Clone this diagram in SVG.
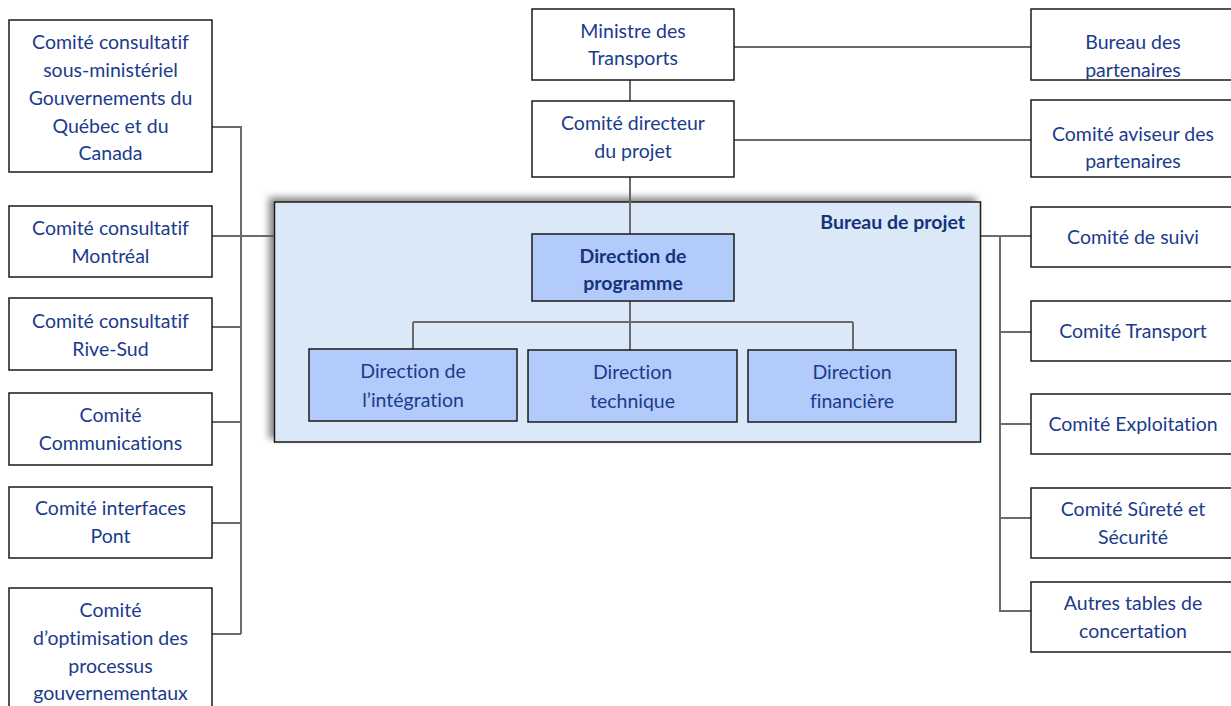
<svg xmlns="http://www.w3.org/2000/svg" width="1231" height="706" viewBox="0 0 1231 706">
<defs>
<style>
.box{fill:#fff;stroke:#1a1a1a;stroke-width:1.5}
.dir{fill:#b3cbfa;stroke:#1a1a1a;stroke-width:1.5}
.t{font-family:Lato,"Open Sans",sans-serif;font-size:19.5px;fill:#1b3b8c;text-anchor:middle;font-variant-ligatures:none;font-feature-settings:"liga" 0,"dlig" 0}
.b{font-weight:bold;fill:#16327a}
.c{fill:none;stroke:#6b6b6b;stroke-width:2}
</style>
<filter id="sh" x="-5%" y="-10%" width="110%" height="120%">
<feDropShadow dx="-5" dy="-4" stdDeviation="3.5" flood-color="#555" flood-opacity="0.7"/>
</filter>
</defs>
<rect width="1231" height="706" fill="#fff"/>
<g id="connectors">
<path class="c" d="M212 127H241V634M212 634H241M212 236H275M212 327H241M212 422H241M212 523H241"/>
<path class="c" d="M981 236H1031M1000 236V611H1031M1000 332H1031M1000 424H1031M1000 518H1031"/>
<path class="c" d="M630 80V101M630 177V234M734 47H1031M734 140H1031"/>
</g>
<g id="bureau-projet">
<rect x="274.5" y="202" width="706" height="240" fill="#dae8f7" stroke="#1a1a1a" stroke-width="1.5" filter="url(#sh)"/>
<text class="t b" x="965" y="229" style="text-anchor:end">Bureau de projet</text>
</g>
<g id="connectors-internal">
<path class="c" d="M630 201V234M630 301V350M413 322H853M413 322V349M853 322V349"/>
</g>
<g id="n-cc-sous"><rect class="box" x="9" y="20" width="203" height="152"/>
<text class="t"><tspan x="110.5" y="49">Comité consultatif</tspan><tspan x="110.5" y="77">sous-ministériel</tspan><tspan x="110.5" y="105">Gouvernements du</tspan><tspan x="110.5" y="133">Québec et du</tspan><tspan x="110.5" y="160">Canada</tspan></text></g>
<g id="n-cc-mtl"><rect class="box" x="9" y="206" width="203" height="71"/>
<text class="t"><tspan x="110.5" y="235">Comité consultatif</tspan><tspan x="110.5" y="263">Montréal</tspan></text></g>
<g id="n-cc-rs"><rect class="box" x="9" y="298" width="203" height="72"/>
<text class="t"><tspan x="110.5" y="328">Comité consultatif</tspan><tspan x="110.5" y="356">Rive-Sud</tspan></text></g>
<g id="n-ccom"><rect class="box" x="9" y="393" width="203" height="72"/>
<text class="t"><tspan x="110.5" y="422">Comité</tspan><tspan x="110.5" y="450">Communications</tspan></text></g>
<g id="n-cip"><rect class="box" x="9" y="487" width="203" height="71"/>
<text class="t"><tspan x="110.5" y="515">Comité interfaces</tspan><tspan x="110.5" y="543">Pont</tspan></text></g>
<g id="n-copt"><rect class="box" x="9" y="588" width="203" height="128"/>
<text class="t"><tspan x="110.5" y="617">Comité</tspan><tspan x="110.5" y="645">d’optimisation des</tspan><tspan x="110.5" y="673">processus</tspan><tspan x="110.5" y="700">gouvernementaux</tspan></text></g>
<g id="n-ministre"><rect class="box" x="532" y="9" width="202" height="71"/>
<text class="t"><tspan x="633" y="38">Ministre des</tspan><tspan x="633" y="65">Transports</tspan></text></g>
<g id="n-cdir"><rect class="box" x="532" y="101" width="202" height="76"/>
<text class="t"><tspan x="633" y="130">Comité directeur</tspan><tspan x="633" y="158">du projet</tspan></text></g>
<g id="n-prog"><rect class="dir" x="532" y="234" width="202" height="67"/>
<text class="t b"><tspan x="633" y="263">Direction de</tspan><tspan x="633" y="290">programme</tspan></text></g>
<g id="n-integ"><rect class="dir" x="309" y="349" width="208" height="72"/>
<text class="t"><tspan x="413" y="378">Direction de</tspan><tspan x="413" y="407">l’intégration</tspan></text></g>
<g id="n-tech"><rect class="dir" x="528" y="350" width="209" height="72"/>
<text class="t"><tspan x="632.5" y="379">Direction</tspan><tspan x="632.5" y="408">technique</tspan></text></g>
<g id="n-fin"><rect class="dir" x="748" y="350" width="208" height="72"/>
<text class="t"><tspan x="852" y="379">Direction</tspan><tspan x="852" y="408">financière</tspan></text></g>
<g id="n-bpart"><rect class="box" x="1031" y="9" width="205" height="71"/>
<text class="t"><tspan x="1133" y="49">Bureau des</tspan><tspan x="1133" y="77">partenaires</tspan></text></g>
<g id="n-caviseur"><rect class="box" x="1031" y="100" width="205" height="77"/>
<text class="t"><tspan x="1133" y="141">Comité aviseur des</tspan><tspan x="1133" y="168">partenaires</tspan></text></g>
<g id="n-suivi"><rect class="box" x="1031" y="207" width="205" height="60"/>
<text class="t"><tspan x="1133" y="244">Comité de suivi</tspan></text></g>
<g id="n-transport"><rect class="box" x="1031" y="301" width="205" height="60"/>
<text class="t"><tspan x="1133" y="338">Comité Transport</tspan></text></g>
<g id="n-exploit"><rect class="box" x="1031" y="394" width="205" height="60"/>
<text class="t"><tspan x="1133" y="431">Comité Exploitation</tspan></text></g>
<g id="n-surete"><rect class="box" x="1031" y="488" width="205" height="70"/>
<text class="t"><tspan x="1133" y="516">Comité Sûreté et</tspan><tspan x="1133" y="544">Sécurité</tspan></text></g>
<g id="n-autres"><rect class="box" x="1031" y="582" width="205" height="70"/>
<text class="t"><tspan x="1133" y="610">Autres tables de</tspan><tspan x="1133" y="638">concertation</tspan></text></g>
</svg>
